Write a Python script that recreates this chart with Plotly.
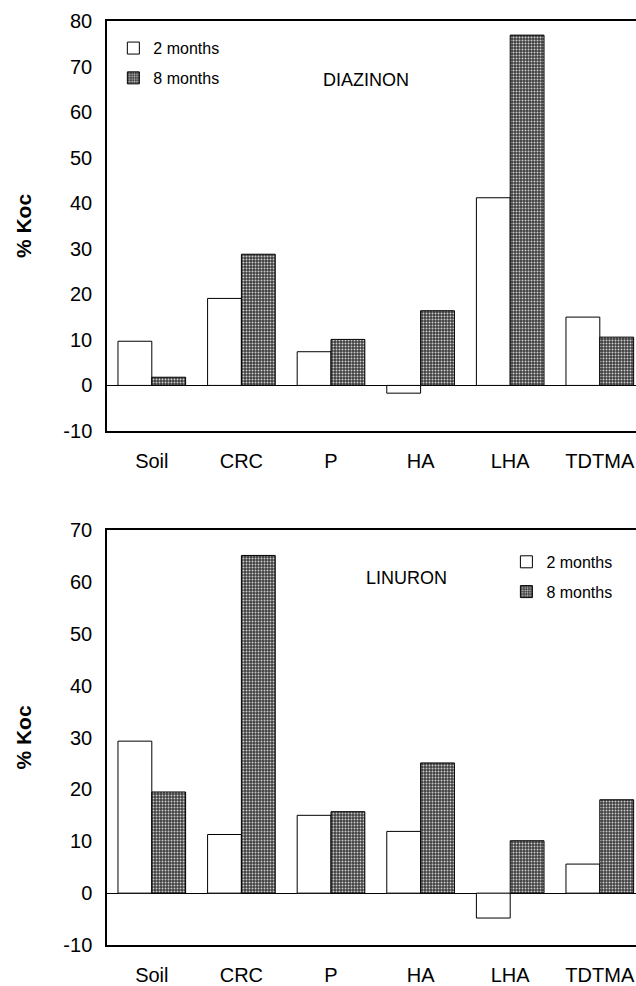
import plotly.graph_objects as go

categories = ["Soil", "CRC", "P", "HA", "LHA", "TDTMA"]
diazinon_2m = [9.7, 19.1, 7.4, -1.7, 41.2, 15.0]
diazinon_8m = [1.8, 28.8, 10.1, 16.4, 76.9, 10.6]
linuron_2m = [29.3, 11.3, 15.0, 11.9, -4.8, 5.6]
linuron_8m = [19.5, 65.1, 15.7, 25.1, 10.1, 18.0]
series_names = ["2 months", "8 months"]
yticks_top = [-10, 0, 10, 20, 30, 40, 50, 60, 70, 80]
yticks_bottom = [-10, 0, 10, 20, 30, 40, 50, 60, 70]

FONT = "Liberation Sans, Arial, sans-serif"
white_marker = dict(color="white", line=dict(color="black", width=1))
dark_marker = dict(color="#4a4a4a", line=dict(color="black", width=1),
                   pattern=dict(shape=".", fgcolor="#d0d0d0", bgcolor="#3c3c3c",
                                size=3, solidity=0.35, fillmode="replace"))

fig = go.Figure()
fig.add_trace(go.Bar(x=categories, y=diazinon_2m, name=series_names[0], marker=white_marker,
                     xaxis="x", yaxis="y", legend="legend", legendgroup="a"))
fig.add_trace(go.Bar(x=categories, y=diazinon_8m, name=series_names[1], marker=dark_marker,
                     xaxis="x", yaxis="y", legend="legend", legendgroup="b"))
fig.add_trace(go.Bar(x=categories, y=linuron_2m, name=series_names[0], marker=white_marker,
                     xaxis="x2", yaxis="y2", legend="legend2", legendgroup="c"))
fig.add_trace(go.Bar(x=categories, y=linuron_8m, name=series_names[1], marker=dark_marker,
                     xaxis="x2", yaxis="y2", legend="legend2", legendgroup="d"))

xr = [-0.5, 5.404]
common_x = dict(range=xr, showline=True, linecolor="black", linewidth=1.5, mirror=True,
                ticks="", showgrid=False, tickfont=dict(size=20, color="black"),
                ticklabelstandoff=11, fixedrange=True)
common_y = dict(showline=True, linecolor="black", linewidth=1.5, ticks="", showgrid=False,
                zeroline=True, zerolinecolor="black", zerolinewidth=1.2,
                tickfont=dict(size=20, color="black"), ticklabelstandoff=9,
                tickmode="array", mirror=False,
                title=dict(text="<b>% Koc</b>", font=dict(size=21, color="black"), standoff=26))

fig.update_layout(
    width=636, height=986,
    margin=dict(l=107, r=0, t=21, b=32),
    paper_bgcolor="white", plot_bgcolor="white",
    font=dict(family=FONT, color="black"),
    barmode="group", bargap=0.245, bargroupgap=0,
    xaxis=dict(**common_x, domain=[0, 1], anchor="y"),
    yaxis=dict(**common_y, domain=[0.5563, 1.0], range=[-10, 80], anchor="x",
               tickvals=yticks_top, ticktext=[str(v) for v in yticks_top]),
    xaxis2=dict(**common_x, domain=[0, 1], anchor="y2"),
    yaxis2=dict(**common_y, domain=[0.0, 0.4491], range=[-10, 70], anchor="x2",
                tickvals=yticks_bottom, ticktext=[str(v) for v in yticks_bottom]),
    legend=dict(x=0.012, y=0.989, xanchor="left", yanchor="top", font=dict(size=16),
                bgcolor="rgba(0,0,0,0)", tracegroupgap=6, itemwidth=30),
    legend2=dict(x=0.755, y=0.433, xanchor="left", yanchor="top", font=dict(size=16),
                 bgcolor="rgba(0,0,0,0)", tracegroupgap=6, itemwidth=30),
    annotations=[
        dict(text="DIAZINON", x=0.4896, y=0.9486, xref="paper", yref="paper",
             showarrow=False, font=dict(size=18, color="black")),
        dict(text="LINURON", x=0.567, y=0.3976, xref="paper", yref="paper",
             showarrow=False, font=dict(size=18, color="black")),
    ],
)

fig.write_html("out.html", config={"displayModeBar": False},
               post_script="document.body.style.margin='0';document.body.style.overflow='hidden';")
